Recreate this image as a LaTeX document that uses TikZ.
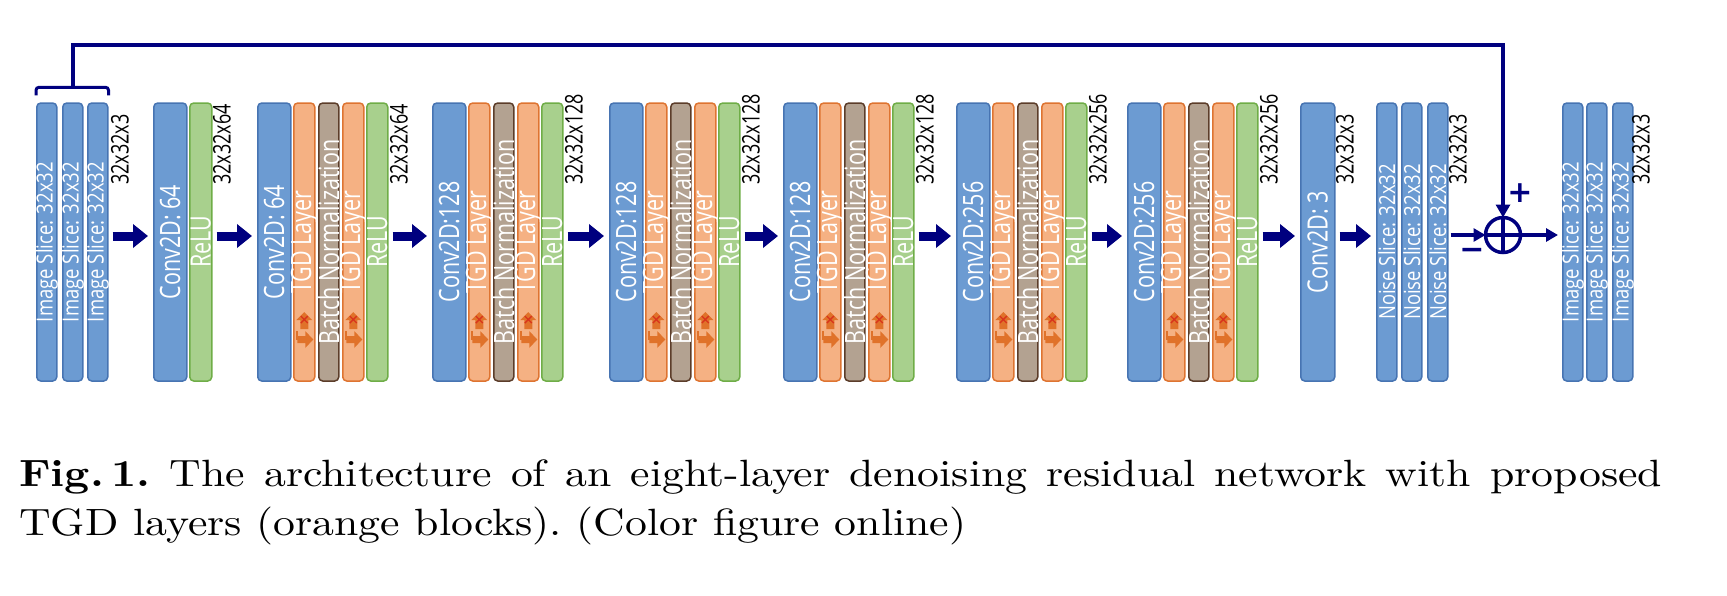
\documentclass[tikz,border=0pt]{standalone}
\usepackage{fontspec}
\usepackage{graphicx}
\newfontfamily\blkfont{Open Sans}
\newfontfamily\symfont{DejaVu Sans}
\newfontfamily\capfam{lmroman10-regular}[Extension=.otf, BoldFont=lmroman10-bold]
\usetikzlibrary{arrows.meta}
\definecolor{bfill}{HTML}{6C9BD2}
\definecolor{bdraw}{HTML}{4774B2}
\definecolor{ofill}{HTML}{F5B183}
\definecolor{odraw}{HTML}{DE7431}
\definecolor{nfill}{HTML}{B3A291}
\definecolor{ndraw}{HTML}{5C3D2A}
\definecolor{gfill}{HTML}{A8D08D}
\definecolor{gdraw}{HTML}{6FAD47}
\definecolor{darrow}{HTML}{00007F}
\definecolor{iconor}{HTML}{E0722A}
\definecolor{iconred}{HTML}{D8341C}
\newcommand\vtext[1]{\makebox[0pt]{\rotatebox{90}{\scalebox{1}[1.3]{#1}}}}
\newcommand\vslice[1]{\makebox[0pt]{\rotatebox{90}{\scalebox{1}[1.2]{#1}}}}
\newcommand\vlbl[1]{\makebox[0pt]{\rotatebox{90}{\scalebox{1}[1.35]{#1}}}}
\newcommand\capfont{\capfam\fontsize{38}{49}\selectfont\frenchspacing}
\newsavebox\capboxtwo
\newlength\capw
\tikzset{
  blockbase/.style={rounded corners=4pt, line width=1.5pt, minimum height=278pt, inner sep=0pt, anchor=west, text=white, font=\blkfont\fontsize{21.5}{21.5}\selectfont},
  convb/.style={blockbase, fill=bfill, draw=bdraw, minimum width=33pt},
  sliceb/.style={blockbase, fill=bfill, draw=bdraw, minimum width=20pt, font=\blkfont\fontsize{18.5}{18.5}\selectfont},
  tgdb/.style={blockbase, fill=ofill, draw=odraw, minimum width=21pt},
  bnb/.style={blockbase, fill=nfill, draw=ndraw, minimum width=20pt},
  relub/.style={blockbase, fill=gfill, draw=gdraw, minimum width=21pt},
  lbl/.style={anchor=south, inner sep=0pt, font=\blkfont\fontsize{18}{18}\selectfont, text=black},
  flow/.style={draw=darrow, line width=9pt, -{Triangle[length=15pt,width=23pt]}, shorten <=4pt, shorten >=5pt},
  thinflow/.style={draw=darrow, line width=3.5pt, -{Triangle[length=12pt,width=13pt]}},
  signtxt/.style={inner sep=0pt, text=darrow, font=\symfont\bfseries\fontsize{30}{30}\selectfont},
  tgdicon/.pic={
    \fill[iconor] (0,70) -- (8,78) -- (4,78) -- (4,87) -- (-4,87) -- (-4,78) -- (-8,78) -- cycle;
    \draw[iconred, line width=1.4pt] (-3.5,74) -- (3.5,81) (3.5,74) -- (-3.5,81);
    \draw[iconor, line width=1.8pt] (-7,89) -- (-7,98);
    \fill[iconor] (-7,94) -- (1,94) -- (1,89) -- (9,97.5) -- (1,106) -- (1,101) -- (-7,101) -- cycle;
  }
}
\newcommand\resgroup[4]{%
  \node[convb] (#1c) at (#2,242) {\vtext{#3}};
  \node[tgdb] (#1t1) at (#2+36,242) {\vtext{TGD Layer}};
  \node[bnb] (#1n) at (#2+61,242) {\vtext{Batch Normalization}};
  \node[tgdb] (#1t2) at (#2+85,242) {\vtext{TGD Layer}};
  \node[relub] (#1r) at (#2+109,242) {\vtext{ReLU}};
  \pic at (#1t1.center) {tgdicon};
  \pic at (#1t2.center) {tgdicon};
  \node[lbl] (#1l) at (#2+142,185) {\vlbl{#4}};
}
\begin{document}
\sbox\capboxtwo{\capfont TGD layers (orange blocks). (Color figure online)}%
\setlength\capw{\wd\capboxtwo}%
\pgfmathsetmacro\capscale{947/\capw}%
\pgfmathsetlengthmacro\lineonew{1643pt/\capscale}%
\begin{tikzpicture}[x=1pt,y=-1pt]
\useasboundingbox (0,0) rectangle (1727,595);
% input slices
\node[sliceb] (in1) at (36,242) {\vslice{Image Slice: 32x32}};
\node[sliceb] (in2) at (62,242) {\vslice{Image Slice: 32x32}};
\node[sliceb] (in3) at (87,242) {\vslice{Image Slice: 32x32}};
\node[lbl] (inl) at (120,185) {\vlbl{32x32x3}};
% first conv + relu
\node[convb] (Ac) at (153,242) {\vtext{Conv2D: 64}};
\node[relub, minimum width=22pt] (Ar) at (189,242) {\vtext{ReLU}};
\node[lbl] (Al) at (222,185) {\vlbl{32x32x64}};
% residual groups
\resgroup{B}{257}{Conv2D: 64}{32x32x64}
\resgroup{C}{432}{Conv2D:128}{32x32x128}
\resgroup{D}{609}{Conv2D:128}{32x32x128}
\resgroup{E}{783}{Conv2D:128}{32x32x128}
\resgroup{F}{956}{Conv2D:256}{32x32x256}
\resgroup{G}{1127}{Conv2D:256}{32x32x256}
% last conv
\node[convb, minimum width=34pt] (Hc) at (1300,242) {\vtext{Conv2D: 3}};
\node[lbl] (Hl) at (1345,185) {\vlbl{32x32x3}};
% noise slices
\node[sliceb] (n1) at (1376,242) {\vslice{Noise Slice: 32x32}};
\node[sliceb] (n2) at (1401,242) {\vslice{Noise Slice: 32x32}};
\node[sliceb] (n3) at (1427,242) {\vslice{Noise Slice: 32x32}};
\node[lbl] (nl) at (1458,185) {\vlbl{32x32x3}};
% output slices
\node[sliceb] (o1) at (1562,242) {\vslice{Image Slice: 32x32}};
\node[sliceb] (o2) at (1586,242) {\vslice{Image Slice: 32x32}};
\node[sliceb] (o3) at (1612,242) {\vslice{Image Slice: 32x32}};
\node[lbl] (ol) at (1641,185) {\vlbl{32x32x3}};
% sum
\node[circle, draw=darrow, line width=3.5pt, minimum size=35pt, inner sep=0pt, outer sep=0pt] (sum) at (1503,235) {};
\draw[darrow, line width=3.5pt] (sum.north) -- (sum.south) (sum.west) -- (sum.east);
\node[signtxt] (plus) at (1520,193) {+};
\node[signtxt, anchor=base] (minus) at (1472,259) {−};
% flow arrows
\draw[flow] ([yshift=6pt]in3.east) -- ([yshift=6pt]Ac.west);
\draw[flow] ([yshift=6pt]Ar.east) -- ([yshift=6pt]Bc.west);
\draw[flow] ([yshift=6pt]Br.east) -- ([yshift=6pt]Cc.west);
\draw[flow] ([yshift=6pt]Cr.east) -- ([yshift=6pt]Dc.west);
\draw[flow] ([yshift=6pt]Dr.east) -- ([yshift=6pt]Ec.west);
\draw[flow] ([yshift=6pt]Er.east) -- ([yshift=6pt]Fc.west);
\draw[flow] ([yshift=6pt]Fr.east) -- ([yshift=6pt]Gc.west);
\draw[flow] ([yshift=6pt]Gr.east) -- ([yshift=6pt]Hc.west);
\draw[flow] ([yshift=6pt]Hc.east) -- ([yshift=6pt]n1.west);
\draw[thinflow, shorten <=2pt] (n3.east |- sum.west) -- (sum.west);
\draw[thinflow, shorten >=4pt] (sum.east) -- (o1.west |- sum.east);
% skip connection with bracket
\draw[darrow, line width=3pt, rounded corners=3pt] ([yshift=7pt]in1.north west) -- ([yshift=15pt]in1.north west) -| ([yshift=7pt]in3.north east);
\coordinate (brk) at ([yshift=15pt]in2.north);
\coordinate (topc) at (brk |- 0,45);
\draw[darrow, line width=3.5pt, -{Triangle[length=13pt,width=14pt]}] (brk) -- (topc) -| (sum.north);
% caption
\node[anchor=base west, inner sep=0pt] (cap1) at (19,486) {\scalebox{\capscale}[1]{\makebox[\lineonew][s]{\capfont\textbf{Fig.\,1.} The architecture of an eight-layer denoising residual network with proposed}}};
\node[anchor=base west, inner sep=0pt] (cap2) at (19,535) {\scalebox{\capscale}[1]{\usebox\capboxtwo}};
\end{tikzpicture}
\end{document}
